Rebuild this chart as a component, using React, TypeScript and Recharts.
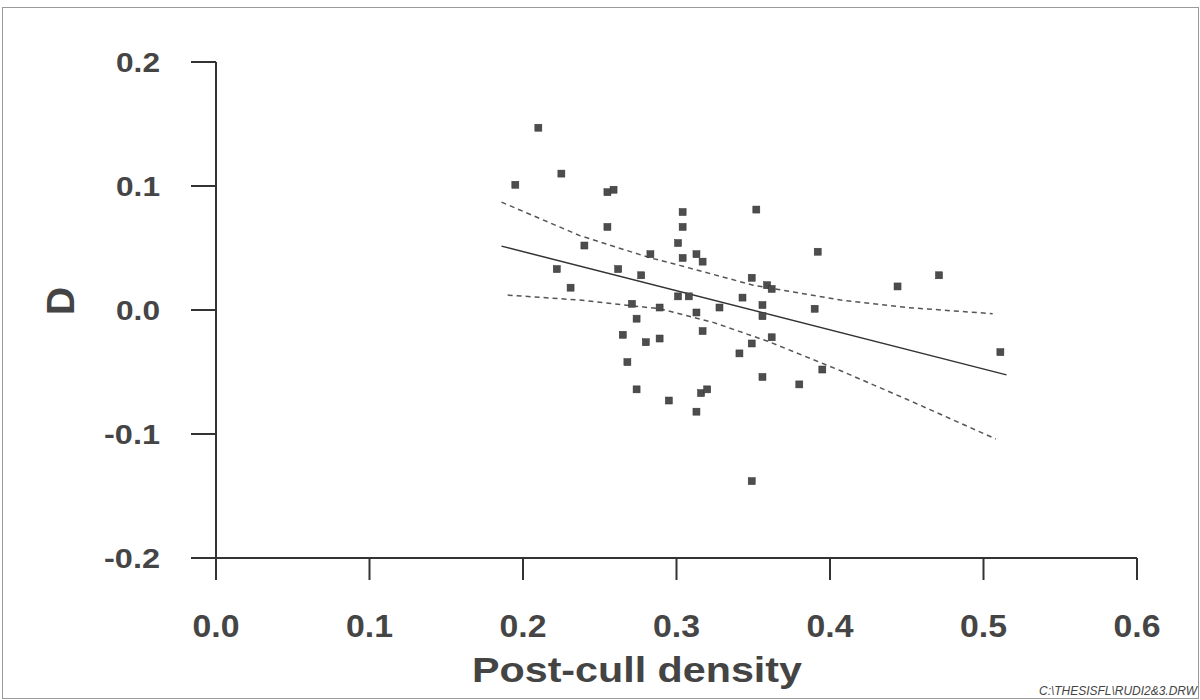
import { ScatterChart, Scatter, XAxis, YAxis, Label } from 'recharts';

document.body.style.margin = '0';

// post-cull density (x) and D (y) for each sampled plot
const density = [
  0.195, 0.21, 0.225, 0.222, 0.231, 0.24, 0.255, 0.255, 0.259, 0.262,
  0.265, 0.268, 0.271, 0.274, 0.277, 0.274, 0.28, 0.283, 0.289, 0.289,
  0.295, 0.301, 0.304, 0.304, 0.304, 0.301, 0.308, 0.313, 0.317, 0.313,
  0.317, 0.313, 0.316, 0.32, 0.328, 0.341, 0.343, 0.349, 0.349, 0.349,
  0.352, 0.356, 0.356, 0.356, 0.359, 0.362, 0.362, 0.38, 0.39, 0.392,
  0.395, 0.444, 0.471, 0.511,
];
const dValues = [
  0.101, 0.147, 0.11, 0.033, 0.018, 0.052, 0.067, 0.095, 0.097, 0.033,
  -0.02, -0.042, 0.005, -0.007, 0.028, -0.064, -0.026, 0.045, 0.002, -0.023,
  -0.073, 0.054, 0.079, 0.067, 0.042, 0.011, 0.011, 0.045, 0.039, -0.002,
  -0.017, -0.082, -0.067, -0.064, 0.002, -0.035, 0.01, 0.026, -0.027, -0.138,
  0.081, 0.004, -0.005, -0.054, 0.02, 0.017, -0.022, -0.06, 0.001, 0.047,
  -0.048, 0.019, 0.028, -0.034,
];

// fitted regression line
const fitX = [0.186, 0.515];
const fitY = [0.0515, -0.0523];

// 95% confidence band
const upperX = [0.186, 0.237, 0.283, 0.302, 0.35, 0.407, 0.45, 0.506];
const upperY = [0.087, 0.06, 0.042, 0.036, 0.02, 0.008, 0.002, -0.003];
const lowerX = [0.19, 0.237, 0.289, 0.324, 0.359, 0.407, 0.45, 0.508];
const lowerY = [0.012, 0.008, 0.001, -0.01, -0.025, -0.049, -0.072, -0.104];

const xTicks = [0, 0.1, 0.2, 0.3, 0.4, 0.5, 0.6];
const yTicks = [-0.2, -0.1, 0, 0.1, 0.2];

const zip = (xs: number[], ys: number[]) => xs.map((x, i) => ({ x, y: ys[i] }));

const points = zip(density, dValues);
const fit = zip(fitX, fitY);
const upper = zip(upperX, upperY);
const lower = zip(lowerX, lowerY);

const INK = '#333';
const FONT = '"Liberation Sans", Arial, sans-serif';

const XTick = ({ x, y, payload }: any) => (
  <text x={x} y={y} dy="0.72em" textAnchor="middle" fontFamily={FONT} fontWeight="bold"
    fontSize={31} fill="#454545" textLength={47} lengthAdjust="spacingAndGlyphs">
    {Number(payload.value).toFixed(1)}
  </text>
);

const YTick = ({ x, y, payload }: any) => {
  const s = Number(payload.value).toFixed(1);
  return (
    <text x={x} y={y} dy="0.36em" textAnchor="end" fontFamily={FONT} fontWeight="bold"
      fontSize={28} fill="#454545" textLength={s.length > 3 ? 56 : 44} lengthAdjust="spacingAndGlyphs">
      {s}
    </text>
  );
};

const SquareDot = ({ cx, cy }: any) => (
  <rect x={cx - 3.5} y={cy - 3.5} width={7} height={7} fill="#4d4d4d" stroke="#333" strokeWidth={0.5} />
);

const NoDot = () => <g />;

const XTitle = () => (
  <g>
    <text x={637} y={682} textAnchor="middle" fontFamily={FONT} fontWeight="bold" fontSize={35}
      fill="#444" textLength={330} lengthAdjust="spacingAndGlyphs">
      Post-cull density
    </text>
    <text x={1197} y={695} textAnchor="end" fontFamily={FONT} fontStyle="italic" fontSize={12}
      fill="#444" textLength={158} lengthAdjust="spacingAndGlyphs">
      {'C:\\THESISFL\\RUDI2&3.DRW'}
    </text>
  </g>
);

const YTitle = () => (
  <text transform="translate(60,301) rotate(-90)" textAnchor="middle" dy="0.36em"
    fontFamily={FONT} fontWeight="bold" fontSize={39} fill="#444">
    D
  </text>
);

export default function App() {
  return (
    <div style={{ position: 'relative', width: 1200, height: 700, background: '#fff' }}>
      <div style={{ position: 'absolute', left: 2, top: 7, width: 1195, height: 690, border: '1px solid #9a9a9a' }} />
      <ScatterChart width={1200} height={700} margin={{ top: 62, right: 63, bottom: 82, left: 100 }}>
        <XAxis type="number" dataKey="x" domain={[0, 0.6]} ticks={xTicks} height={60}
          stroke={INK} strokeWidth={2} tickSize={22} tickMargin={35} tick={<XTick />}
          allowDataOverflow>
          <Label content={<XTitle />} />
        </XAxis>
        <YAxis type="number" dataKey="y" domain={[-0.2, 0.2]} ticks={yTicks} width={116}
          stroke={INK} strokeWidth={2} tickSize={25} tickMargin={31} tick={<YTick />}
          allowDataOverflow>
          <Label content={<YTitle />} />
        </YAxis>
        <Scatter data={upper} shape={<NoDot />} line={{ stroke: '#555', strokeWidth: 1.5, strokeDasharray: '5 4' }}
          isAnimationActive={false} />
        <Scatter data={lower} shape={<NoDot />} line={{ stroke: '#555', strokeWidth: 1.5, strokeDasharray: '5 4' }}
          isAnimationActive={false} />
        <Scatter data={fit} shape={<NoDot />} line={{ stroke: '#333', strokeWidth: 1.5 }}
          isAnimationActive={false} />
        <Scatter data={points} shape={<SquareDot />} isAnimationActive={false} />
      </ScatterChart>
    </div>
  );
}
